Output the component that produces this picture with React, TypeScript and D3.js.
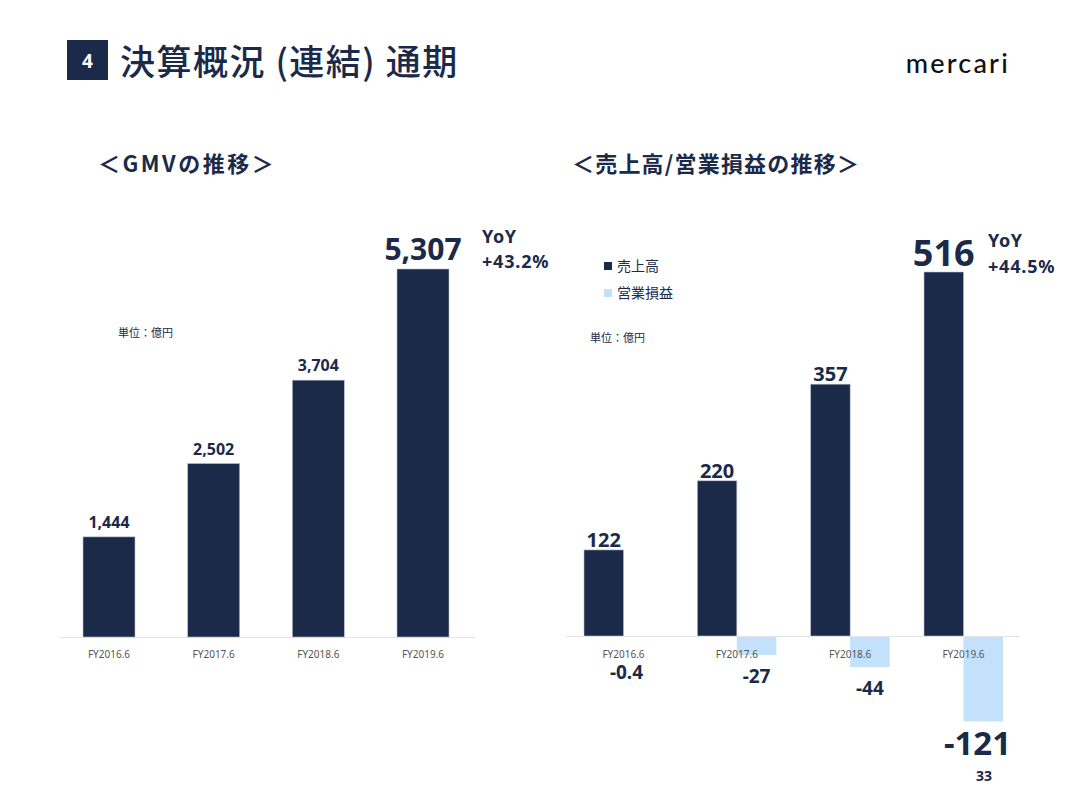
import React from "react";
import * as d3 from "d3";

const years = ["FY2016.6", "FY2017.6", "FY2018.6", "FY2019.6"];
const gmv = [1444, 2502, 3704, 5307];
const gmvLabels = ["1,444", "2,502", "3,704", "5,307"];
const revenue = [122, 220, 357, 516];
const opIncome = [-0.4, -27, -44, -121];
const opLabels = ["-0.4", "-27", "-44", "-121"];

const NAVY = "#1c2a49";
const LIGHT = "#c4e1fc";
const NUMFONT = "'Noto Sans', 'Open Sans', sans-serif";
const JPFONT = "'Noto Sans CJK JP', 'Noto Sans', sans-serif";

export default function App() {
  const xL = d3.scalePoint<string>().domain(years).range([109, 423]);
  const yL = d3.scaleLinear().domain([0, 5307]).range([637, 269]);
  const xR = d3.scalePoint<string>().domain(years).range([623.5, 963.5]);
  const yR = d3.scaleLinear().domain([0, 516]).range([636, 272]);
  const bwL = 52;
  const bwR = 39.5;
  const opDx = [3, bwR / 2, bwR / 2, 14];

  return (
    <svg width={1075} height={807} style={{ position: "absolute", left: 0, top: 0, background: "#fff" }}>
      {/* header */}
      <rect x={67} y={40} width={41} height={40} fill={NAVY} />
      <text x={87.5} y={68} textAnchor="middle" fill="#fff" fontFamily={NUMFONT} fontWeight={700} fontSize={19}>4</text>
      <text x={120} y={75} fill={NAVY} fontFamily={JPFONT} fontWeight={500} fontSize={35} letterSpacing={1.5}>決算概況 (連結) 通期</text>
      <text x={1010} y={73} textAnchor="end" fill="#111" fontFamily="Lato, 'Noto Sans', sans-serif" fontWeight={500} fontSize={27} letterSpacing={2.2}>mercari</text>

      {/* subtitles */}
      <text x={98} y={172} fill={NAVY} fontFamily={JPFONT} fontWeight={700} fontSize={22} letterSpacing={2.5}>＜GMVの推移＞</text>
      <text x={572} y={172} fill={NAVY} fontFamily={JPFONT} fontWeight={700} fontSize={22} letterSpacing={1.2}>＜売上高/営業損益の推移＞</text>

      {/* left chart */}
      <text x={118} y={337} fill={NAVY} fontFamily={JPFONT} fontSize={11}>単位：億円</text>
      <line x1={60} x2={475} y1={637.5} y2={637.5} stroke="#e3e3e3" strokeWidth={1.2} />
      {years.map((y, i) => (
        <g key={y}>
          <rect x={xL(y)! - bwL / 2} y={yL(gmv[i])} width={bwL} height={yL(0) - yL(gmv[i])} fill={NAVY} stroke="#b8c0cf" strokeWidth={0.6} />
          <text x={xL(y)} y={658} textAnchor="middle" fill="#555" fontFamily={NUMFONT} fontSize={10}>{y}</text>
          <text
            x={xL(y)}
            y={yL(gmv[i]) - 9}
            textAnchor="middle"
            fill={NAVY}
            fontFamily={NUMFONT}
            fontWeight={700}
            fontSize={i === 3 ? 30 : 16}
          >{gmvLabels[i]}</text>
        </g>
      ))}
      <text x={482} y={243} fill={NAVY} fontFamily={NUMFONT} fontWeight={700} fontSize={18} letterSpacing={0.6}>YoY</text>
      <text x={482} y={268} fill={NAVY} fontFamily={NUMFONT} fontWeight={700} fontSize={18} letterSpacing={0.8}>+43.2%</text>

      {/* right chart */}
      <rect x={604} y={262} width={8} height={8} fill={NAVY} />
      <text x={617} y={271} fill={NAVY} fontFamily={JPFONT} fontSize={14}>売上高</text>
      <rect x={604} y={289} width={8} height={8} fill={LIGHT} />
      <text x={617} y={298} fill={NAVY} fontFamily={JPFONT} fontSize={14}>営業損益</text>
      <text x={590} y={342} fill={NAVY} fontFamily={JPFONT} fontSize={11}>単位：億円</text>

      {years.map((y, i) => (
        <g key={y}>
          <rect x={xR(y)! - bwR} y={yR(revenue[i])} width={bwR} height={yR(0) - yR(revenue[i])} fill={NAVY} stroke="#b8c0cf" strokeWidth={0.6} />
          <rect x={xR(y)!} y={yR(0)} width={bwR} height={Math.max(1, yR(opIncome[i]) - yR(0))} fill={LIGHT} />
        </g>
      ))}
      <line x1={566} x2={1020} y1={636.5} y2={636.5} stroke="#e3e3e3" strokeWidth={1.2} />
      {years.map((y, i) => (
        <g key={"l" + y}>
          <text x={xR(y)} y={658} textAnchor="middle" fill="#555" fontFamily={NUMFONT} fontSize={10}>{y}</text>
          <text
            x={xR(y)! - bwR / 2}
            y={yR(revenue[i]) - (i === 3 ? 6 : 3)}
            textAnchor="middle"
            fill={NAVY}
            fontFamily={NUMFONT}
            fontWeight={700}
            fontSize={i === 3 ? 36 : 20}
          >{revenue[i]}</text>
          <text
            x={xR(y)! + opDx[i]}
            y={i === 0 ? 679 : yR(opIncome[i]) + (i === 3 ? 34 : 28)}
            textAnchor="middle"
            fill={NAVY}
            fontFamily={NUMFONT}
            fontWeight={700}
            fontSize={i === 3 ? 33 : 19}
          >{opLabels[i]}</text>
        </g>
      ))}
      <text x={988} y={247} fill={NAVY} fontFamily={NUMFONT} fontWeight={700} fontSize={18} letterSpacing={0.6}>YoY</text>
      <text x={988} y={273} fill={NAVY} fontFamily={NUMFONT} fontWeight={700} fontSize={18} letterSpacing={0.8}>+44.5%</text>

      <text x={984} y={781} textAnchor="middle" fill={NAVY} fontFamily={NUMFONT} fontWeight={700} fontSize={14}>33</text>
    </svg>
  );
}
